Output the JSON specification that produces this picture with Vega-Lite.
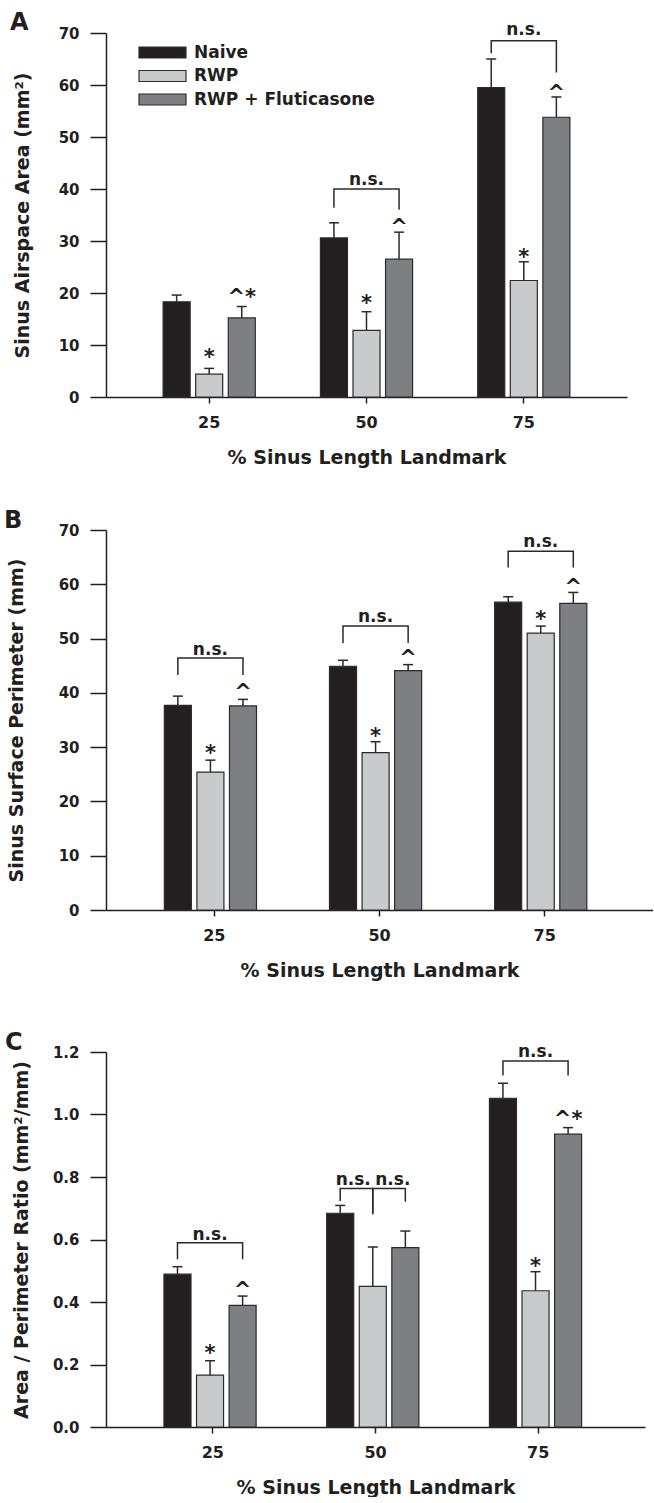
{
 "$schema": "https://vega.github.io/schema/vega-lite/v6.json",
 "padding": {"left": 4, "top": 10, "right": 0, "bottom": 0},
 "background": "white",
 "config": {
  "font": "DejaVu Sans",
  "view": {"stroke": null},
  "axis": {"grid": false, "domainColor": "#231f20", "domainWidth": 1.5, "tickColor": "#231f20", "tickWidth": 1.5, "labelFont": "DejaVu Sans", "labelFontWeight": "bold", "labelColor": "#231f20", "titleFont": "DejaVu Sans", "titleFontWeight": "bold", "titleColor": "#231f20", "titleFontSize": 19},
  "title": {"font": "DejaVu Sans", "fontWeight": "bold", "fontSize": 24, "color": "#231f20", "anchor": "start", "frame": "group", "baseline": "alphabetic"},
  "text": {"font": "DejaVu Sans", "fontWeight": "bold", "color": "#231f20"}
 },
 "resolve": {"legend": {"color": "independent"}},
 "datasets": {
  "barsA": [
   {"landmark": "25", "group": "Naive", "value": 18.3, "err": 19.6},
   {"landmark": "25", "group": "RWP", "value": 4.4, "err": 5.5},
   {"landmark": "25", "group": "RWP + Fluticasone", "value": 15.2, "err": 17.4},
   {"landmark": "50", "group": "Naive", "value": 30.6, "err": 33.5},
   {"landmark": "50", "group": "RWP", "value": 12.8, "err": 16.4},
   {"landmark": "50", "group": "RWP + Fluticasone", "value": 26.5, "err": 31.7},
   {"landmark": "75", "group": "Naive", "value": 59.5, "err": 65.0},
   {"landmark": "75", "group": "RWP", "value": 22.4, "err": 26.0},
   {"landmark": "75", "group": "RWP + Fluticasone", "value": 53.8, "err": 57.7}
  ],
  "annA": [
   {"landmark": "25", "group": "RWP", "y": 8.5, "label": "*"},
   {"landmark": "25", "group": "RWP + Fluticasone", "y": 20.0, "label": "^*"},
   {"landmark": "50", "group": "RWP", "y": 18.8, "label": "*"},
   {"landmark": "50", "group": "RWP + Fluticasone", "y": 33.4, "label": "^"},
   {"landmark": "75", "group": "RWP", "y": 27.7, "label": "*"},
   {"landmark": "75", "group": "RWP + Fluticasone", "y": 59.3, "label": "^"}
  ],
  "nsA": [
   {"landmark": "50", "group": "RWP", "y": 41.8, "label": "n.s."},
   {"landmark": "75", "group": "RWP", "y": 70.6, "label": "n.s."}
  ],
  "brA": [
   {"id": "A50", "landmark": "50", "group": "Naive", "y": 36.4, "seq": 1},
   {"id": "A50", "landmark": "50", "group": "Naive", "y": 40.0, "seq": 2},
   {"id": "A50", "landmark": "50", "group": "RWP + Fluticasone", "y": 40.0, "seq": 3},
   {"id": "A50", "landmark": "50", "group": "RWP + Fluticasone", "y": 36.0, "seq": 4},
   {"id": "A75", "landmark": "75", "group": "Naive", "y": 66.1, "seq": 1},
   {"id": "A75", "landmark": "75", "group": "Naive", "y": 68.5, "seq": 2},
   {"id": "A75", "landmark": "75", "group": "RWP + Fluticasone", "y": 68.5, "seq": 3},
   {"id": "A75", "landmark": "75", "group": "RWP + Fluticasone", "y": 62.4, "seq": 4}
  ],
  "barsB": [
   {"landmark": "25", "group": "Naive", "value": 37.7, "err": 39.4},
   {"landmark": "25", "group": "RWP", "value": 25.4, "err": 27.6},
   {"landmark": "25", "group": "RWP + Fluticasone", "value": 37.6, "err": 38.8},
   {"landmark": "50", "group": "Naive", "value": 44.9, "err": 46.0},
   {"landmark": "50", "group": "RWP", "value": 29.0, "err": 31.0},
   {"landmark": "50", "group": "RWP + Fluticasone", "value": 44.1, "err": 45.2},
   {"landmark": "75", "group": "Naive", "value": 56.7, "err": 57.7},
   {"landmark": "75", "group": "RWP", "value": 51.0, "err": 52.3},
   {"landmark": "75", "group": "RWP + Fluticasone", "value": 56.5, "err": 58.5}
  ],
  "annB": [
   {"landmark": "25", "group": "RWP", "y": 29.6, "label": "*"},
   {"landmark": "25", "group": "RWP + Fluticasone", "y": 40.95, "label": "^"},
   {"landmark": "50", "group": "RWP", "y": 32.7, "label": "*"},
   {"landmark": "50", "group": "RWP + Fluticasone", "y": 47.2, "label": "^"},
   {"landmark": "75", "group": "RWP", "y": 54.3, "label": "*"},
   {"landmark": "75", "group": "RWP + Fluticasone", "y": 60.2, "label": "^"}
  ],
  "nsB": [
   {"landmark": "25", "group": "RWP", "y": 47.9, "label": "n.s."},
   {"landmark": "50", "group": "RWP", "y": 54.0, "label": "n.s."},
   {"landmark": "75", "group": "RWP", "y": 67.8, "label": "n.s."}
  ],
  "brB": [
   {"id": "B25", "landmark": "25", "group": "Naive", "y": 43.3, "seq": 1},
   {"id": "B25", "landmark": "25", "group": "Naive", "y": 46.4, "seq": 2},
   {"id": "B25", "landmark": "25", "group": "RWP + Fluticasone", "y": 46.4, "seq": 3},
   {"id": "B25", "landmark": "25", "group": "RWP + Fluticasone", "y": 43.3, "seq": 4},
   {"id": "B50", "landmark": "50", "group": "Naive", "y": 49.2, "seq": 1},
   {"id": "B50", "landmark": "50", "group": "Naive", "y": 52.3, "seq": 2},
   {"id": "B50", "landmark": "50", "group": "RWP + Fluticasone", "y": 52.3, "seq": 3},
   {"id": "B50", "landmark": "50", "group": "RWP + Fluticasone", "y": 49.2, "seq": 4},
   {"id": "B75", "landmark": "75", "group": "Naive", "y": 63.1, "seq": 1},
   {"id": "B75", "landmark": "75", "group": "Naive", "y": 66.1, "seq": 2},
   {"id": "B75", "landmark": "75", "group": "RWP + Fluticasone", "y": 66.1, "seq": 3},
   {"id": "B75", "landmark": "75", "group": "RWP + Fluticasone", "y": 63.1, "seq": 4}
  ],
  "barsC": [
   {"landmark": "25", "group": "Naive", "value": 0.489, "err": 0.513},
   {"landmark": "25", "group": "RWP", "value": 0.166, "err": 0.212},
   {"landmark": "25", "group": "RWP + Fluticasone", "value": 0.389, "err": 0.419},
   {"landmark": "50", "group": "Naive", "value": 0.684, "err": 0.709},
   {"landmark": "50", "group": "RWP", "value": 0.450, "err": 0.576},
   {"landmark": "50", "group": "RWP + Fluticasone", "value": 0.574, "err": 0.627},
   {"landmark": "75", "group": "Naive", "value": 1.052, "err": 1.100},
   {"landmark": "75", "group": "RWP", "value": 0.436, "err": 0.497},
   {"landmark": "75", "group": "RWP + Fluticasone", "value": 0.937, "err": 0.958}
  ],
  "annC": [
   {"landmark": "25", "group": "RWP", "y": 0.25, "label": "*"},
   {"landmark": "25", "group": "RWP + Fluticasone", "y": 0.451, "label": "^"},
   {"landmark": "75", "group": "RWP", "y": 0.528, "label": "*"},
   {"landmark": "75", "group": "RWP + Fluticasone", "y": 0.999, "label": "^*"}
  ],
  "nsC": [
   {"landmark": "25", "group": "RWP", "y": 0.615, "label": "n.s."},
   {"landmark": "75", "group": "RWP", "y": 1.201, "label": "n.s."}
  ],
  "nsC2": [
   {"landmark": "50", "group": "Naive", "y": 0.791, "label": "n.s."}
  ],
  "nsC3": [
   {"landmark": "50", "group": "RWP", "y": 0.791, "label": "n.s."}
  ],
  "brC": [
   {"id": "C25", "landmark": "25", "group": "Naive", "y": 0.537, "seq": 1},
   {"id": "C25", "landmark": "25", "group": "Naive", "y": 0.590, "seq": 2},
   {"id": "C25", "landmark": "25", "group": "RWP + Fluticasone", "y": 0.590, "seq": 3},
   {"id": "C25", "landmark": "25", "group": "RWP + Fluticasone", "y": 0.537, "seq": 4},
   {"id": "C50a", "landmark": "50", "group": "Naive", "y": 0.723, "seq": 1},
   {"id": "C50a", "landmark": "50", "group": "Naive", "y": 0.763, "seq": 2},
   {"id": "C50a", "landmark": "50", "group": "RWP", "y": 0.763, "seq": 3},
   {"id": "C50a", "landmark": "50", "group": "RWP", "y": 0.681, "seq": 4},
   {"id": "C50b", "landmark": "50", "group": "RWP", "y": 0.683, "seq": 1},
   {"id": "C50b", "landmark": "50", "group": "RWP", "y": 0.763, "seq": 2},
   {"id": "C50b", "landmark": "50", "group": "RWP + Fluticasone", "y": 0.763, "seq": 3},
   {"id": "C50b", "landmark": "50", "group": "RWP + Fluticasone", "y": 0.721, "seq": 4},
   {"id": "C75", "landmark": "75", "group": "Naive", "y": 1.125, "seq": 1},
   {"id": "C75", "landmark": "75", "group": "Naive", "y": 1.171, "seq": 2},
   {"id": "C75", "landmark": "75", "group": "RWP + Fluticasone", "y": 1.171, "seq": 3},
   {"id": "C75", "landmark": "75", "group": "RWP + Fluticasone", "y": 1.125, "seq": 4}
  ]
 },
 "bounds": "flush",
 "spacing": 133,
 "vconcat": [
  {
   "width": 521, "height": 364,
   "title": {"text": "A", "dx": -96, "offset": -14},
   "encoding": {
    "x": {"field": "landmark", "type": "nominal", "scale": {"paddingInner": 0, "paddingOuter": 0.156}, "axis": {"title": "% Sinus Length Landmark", "labelAngle": 0, "labelFontSize": 16, "tickSize": 6, "labelPadding": 11, "titlePadding": 18}},
    "xOffset": {"field": "group", "type": "nominal", "scale": {"paddingInner": 0.17, "paddingOuter": 1.05}}
   },
   "layer": [
    {"data": {"name": "barsA"}, "mark": {"type": "bar", "stroke": "#2b2b2b", "strokeWidth": 1.2},
     "encoding": {
      "y": {"field": "value", "type": "quantitative", "scale": {"domain": [0, 70], "nice": false},
       "axis": {"title": "Sinus Airspace Area (mm²)", "values": [0, 5, 10, 15, 20, 25, 30, 35, 40, 45, 50, 55, 60, 65, 70], "labelExpr": "datum.value % 10 === 0 ? datum.label : ''", "tickSize": {"condition": {"test": "datum.value % 10 === 0", "value": 16}, "value": 8}, "labelFontSize": 15, "labelPadding": 11, "titlePadding": 26}},
      "color": {"field": "group", "type": "nominal", "scale": {"domain": ["Naive", "RWP", "RWP + Fluticasone"], "range": ["#231f20", "#c9cacb", "#7e7f82"]},
       "legend": {"orient": "none", "legendX": 48, "legendY": 11, "direction": "vertical", "title": null, "padding": 0, "rowPadding": 5.5, "labelOffset": 23, "labelLimit": 0, "symbolType": "M-4.27,-1H4.27V1H-4.27Z", "symbolSize": 121, "symbolStrokeWidth": 1.2, "symbolStrokeColor": "#2b2b2b", "symbolOpacity": 1, "labelFontSize": 17, "labelFont": "DejaVu Sans", "labelFontWeight": "bold", "labelColor": "#231f20"}}
     }},
    {"data": {"name": "barsA"}, "mark": {"type": "rule", "color": "#2b2b2b", "strokeWidth": 1.5},
     "encoding": {"y": {"field": "value", "type": "quantitative", "scale": {"domain": [0, 70], "nice": false}}, "y2": {"field": "err"}}},
    {"data": {"name": "barsA"}, "mark": {"type": "tick", "color": "#2b2b2b", "size": 10, "thickness": 1.5, "orient": "horizontal", "opacity": 1},
     "encoding": {"y": {"field": "err", "type": "quantitative", "scale": {"domain": [0, 70], "nice": false}}}},
    {"data": {"name": "brA"}, "mark": {"type": "line", "color": "#2b2b2b", "strokeWidth": 1.5},
     "encoding": {"y": {"field": "y", "type": "quantitative", "scale": {"domain": [0, 70], "nice": false}}, "detail": {"field": "id"}, "order": {"field": "seq"}}},
    {"data": {"name": "annA"}, "mark": {"type": "text", "fontSize": 21, "baseline": "middle", "dy": 5},
     "encoding": {"y": {"field": "y", "type": "quantitative", "scale": {"domain": [0, 70], "nice": false}}, "text": {"field": "label"}}},
    {"data": {"name": "nsA"}, "mark": {"type": "text", "fontSize": 17, "baseline": "middle"},
     "encoding": {"y": {"field": "y", "type": "quantitative", "scale": {"domain": [0, 70], "nice": false}}, "text": {"field": "label"}}}
   ]
  },
  {
   "bounds": "flush",
   "spacing": 142,
   "resolve": {"legend": {"color": "independent"}},
   "vconcat": [
    {
     "width": 547, "height": 380,
     "title": {"text": "B", "dx": -102, "offset": -10},
     "encoding": {
      "x": {"field": "landmark", "type": "nominal", "scale": {"paddingInner": 0, "paddingOuter": 0.156}, "axis": {"title": "% Sinus Length Landmark", "labelAngle": 0, "labelFontSize": 16, "tickSize": 6, "labelPadding": 11, "titlePadding": 18}},
      "xOffset": {"field": "group", "type": "nominal", "scale": {"paddingInner": 0.17, "paddingOuter": 1.05}}
     },
     "layer": [
      {"data": {"name": "barsB"}, "mark": {"type": "bar", "stroke": "#2b2b2b", "strokeWidth": 1.2},
       "encoding": {
        "y": {"field": "value", "type": "quantitative", "scale": {"domain": [0, 70], "nice": false},
         "axis": {"title": "Sinus Surface Perimeter (mm)", "values": [0, 5, 10, 15, 20, 25, 30, 35, 40, 45, 50, 55, 60, 65, 70], "labelExpr": "datum.value % 10 === 0 ? datum.label : ''", "tickSize": {"condition": {"test": "datum.value % 10 === 0", "value": 16}, "value": 8}, "labelFontSize": 15, "labelPadding": 11, "titlePadding": 32}},
        "color": {"field": "group", "type": "nominal", "scale": {"domain": ["Naive", "RWP", "RWP + Fluticasone"], "range": ["#231f20", "#c9cacb", "#7e7f82"]}, "legend": null}
       }},
      {"data": {"name": "barsB"}, "mark": {"type": "rule", "color": "#2b2b2b", "strokeWidth": 1.5},
       "encoding": {"y": {"field": "value", "type": "quantitative", "scale": {"domain": [0, 70], "nice": false}}, "y2": {"field": "err"}}},
      {"data": {"name": "barsB"}, "mark": {"type": "tick", "color": "#2b2b2b", "size": 10, "thickness": 1.5, "orient": "horizontal", "opacity": 1},
       "encoding": {"y": {"field": "err", "type": "quantitative", "scale": {"domain": [0, 70], "nice": false}}}},
      {"data": {"name": "brB"}, "mark": {"type": "line", "color": "#2b2b2b", "strokeWidth": 1.5},
       "encoding": {"y": {"field": "y", "type": "quantitative", "scale": {"domain": [0, 70], "nice": false}}, "detail": {"field": "id"}, "order": {"field": "seq"}}},
      {"data": {"name": "annB"}, "mark": {"type": "text", "fontSize": 21, "baseline": "middle", "dy": 5},
       "encoding": {"y": {"field": "y", "type": "quantitative", "scale": {"domain": [0, 70], "nice": false}}, "text": {"field": "label"}}},
      {"data": {"name": "nsB"}, "mark": {"type": "text", "fontSize": 17, "baseline": "middle"},
       "encoding": {"y": {"field": "y", "type": "quantitative", "scale": {"domain": [0, 70], "nice": false}}, "text": {"field": "label"}}}
     ]
    },
    {
     "width": 539, "height": 375,
     "title": {"text": "C", "dx": -101, "offset": -12},
     "encoding": {
      "x": {"field": "landmark", "type": "nominal", "scale": {"paddingInner": 0, "paddingOuter": 0.156}, "axis": {"title": "% Sinus Length Landmark", "labelAngle": 0, "labelFontSize": 16, "tickSize": 6, "labelPadding": 11, "titlePadding": 18}},
      "xOffset": {"field": "group", "type": "nominal", "scale": {"paddingInner": 0.17, "paddingOuter": 1.05}}
     },
     "layer": [
      {"data": {"name": "barsC"}, "mark": {"type": "bar", "stroke": "#2b2b2b", "strokeWidth": 1.2},
       "encoding": {
        "y": {"field": "value", "type": "quantitative", "scale": {"domain": [0, 1.2], "nice": false},
         "axis": {"title": "Area / Perimeter Ratio (mm²/mm)", "values": [0, 0.1, 0.2, 0.3, 0.4, 0.5, 0.6, 0.7, 0.8, 0.9, 1.0, 1.1, 1.2], "format": ".1f", "labelExpr": "round(datum.value * 10) % 2 === 0 ? datum.label : ''", "tickSize": {"condition": {"test": "round(datum.value * 10) % 2 === 0", "value": 16}, "value": 8}, "labelFontSize": 15, "labelPadding": 11, "titlePadding": 21}},
        "color": {"field": "group", "type": "nominal", "scale": {"domain": ["Naive", "RWP", "RWP + Fluticasone"], "range": ["#231f20", "#c9cacb", "#7e7f82"]}, "legend": null}
       }},
      {"data": {"name": "barsC"}, "mark": {"type": "rule", "color": "#2b2b2b", "strokeWidth": 1.5},
       "encoding": {"y": {"field": "value", "type": "quantitative", "scale": {"domain": [0, 1.2], "nice": false}}, "y2": {"field": "err"}}},
      {"data": {"name": "barsC"}, "mark": {"type": "tick", "color": "#2b2b2b", "size": 10, "thickness": 1.5, "orient": "horizontal", "opacity": 1},
       "encoding": {"y": {"field": "err", "type": "quantitative", "scale": {"domain": [0, 1.2], "nice": false}}}},
      {"data": {"name": "brC"}, "mark": {"type": "line", "color": "#2b2b2b", "strokeWidth": 1.5},
       "encoding": {"y": {"field": "y", "type": "quantitative", "scale": {"domain": [0, 1.2], "nice": false}}, "detail": {"field": "id"}, "order": {"field": "seq"}}},
      {"data": {"name": "annC"}, "mark": {"type": "text", "fontSize": 21, "baseline": "middle", "dy": 5},
       "encoding": {"y": {"field": "y", "type": "quantitative", "scale": {"domain": [0, 1.2], "nice": false}}, "text": {"field": "label"}}},
      {"data": {"name": "nsC"}, "mark": {"type": "text", "fontSize": 17, "baseline": "middle"},
       "encoding": {"y": {"field": "y", "type": "quantitative", "scale": {"domain": [0, 1.2], "nice": false}}, "text": {"field": "label"}}},
      {"data": {"name": "nsC2"}, "mark": {"type": "text", "fontSize": 17, "baseline": "middle", "dx": 13},
       "encoding": {"y": {"field": "y", "type": "quantitative", "scale": {"domain": [0, 1.2], "nice": false}}, "text": {"field": "label"}}},
      {"data": {"name": "nsC3"}, "mark": {"type": "text", "fontSize": 17, "baseline": "middle", "dx": 20},
       "encoding": {"y": {"field": "y", "type": "quantitative", "scale": {"domain": [0, 1.2], "nice": false}}, "text": {"field": "label"}}}
     ]
    }
   ]
  }
 ]
}
